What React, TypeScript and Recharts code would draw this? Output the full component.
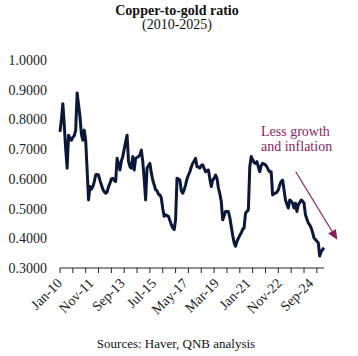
import React from "react";
import { LineChart, Line, XAxis, YAxis, ReferenceLine } from "recharts";

// monthly copper-to-gold ratio, Jan-10 onwards
const ratio = [
  0.758, 0.8, 0.853, 0.78, 0.7, 0.636, 0.747, 0.735, 0.73, 0.74,
  0.745, 0.764, 0.889, 0.85, 0.81, 0.75, 0.73, 0.764, 0.73, 0.63,
  0.529, 0.574, 0.565, 0.574, 0.59, 0.613, 0.615, 0.613, 0.595, 0.58,
  0.565, 0.557, 0.552, 0.555, 0.574, 0.585, 0.6, 0.602, 0.595, 0.591,
  0.669, 0.65, 0.63, 0.66, 0.675, 0.7, 0.725, 0.747, 0.66, 0.641,
  0.636, 0.675, 0.63, 0.669, 0.672, 0.675, 0.68, 0.697, 0.658, 0.6,
  0.529, 0.636, 0.645, 0.652, 0.62, 0.596, 0.58, 0.563, 0.56, 0.548,
  0.546, 0.535, 0.5, 0.474, 0.479, 0.476, 0.474, 0.46, 0.446, 0.435,
  0.429, 0.462, 0.602, 0.6, 0.596, 0.56, 0.552, 0.563, 0.58, 0.6,
  0.613, 0.624, 0.64, 0.652, 0.66, 0.669, 0.641, 0.64, 0.636, 0.645,
  0.647, 0.635, 0.624, 0.628, 0.63, 0.6, 0.574, 0.596, 0.602, 0.613,
  0.602, 0.569, 0.55, 0.524, 0.462, 0.475, 0.49, 0.49, 0.49, 0.47,
  0.44, 0.41, 0.385, 0.373, 0.39, 0.4, 0.41, 0.418, 0.43, 0.435,
  0.485, 0.49, 0.496, 0.641, 0.675, 0.665, 0.655, 0.652, 0.658, 0.64,
  0.624, 0.645, 0.652, 0.65, 0.647, 0.64, 0.63, 0.624, 0.624, 0.546,
  0.55, 0.552, 0.555, 0.563, 0.58, 0.591, 0.596, 0.563, 0.529, 0.515,
  0.502, 0.529, 0.525, 0.518, 0.502, 0.518, 0.49, 0.513, 0.52, 0.529,
  0.525, 0.518, 0.479, 0.465, 0.451, 0.445, 0.435, 0.42, 0.401, 0.396,
  0.39, 0.385, 0.34, 0.355, 0.362, 0.368,
];

const labelMonths = [0, 22, 44, 66, 88, 110, 132, 154, 176];
const labelNames = ["Jan-10", "Nov-11", "Sep-13", "Jul-15", "May-17", "Mar-19", "Jan-21", "Nov-22", "Sep-24"];
const minorTicks = [0, 9, 18, 27, 36, 45, 54, 63, 72, 81, 90, 99, 108, 117, 126, 135, 144, 153, 162, 171, 180];
const yTicks = [0.3, 0.4, 0.5, 0.6, 0.7, 0.8, 0.9, 1.0];

const arrowFrom = { x: 165.2, y: 0.624 };
const arrowTo = { x: 194.3, y: 0.395 };

const FONT = '"Liberation Serif", "Times New Roman", serif';
const NAVY = "#0c1839";
const MAROON = "#8c1d5c";

const data = ratio.map((v, i) => ({ m: i, ratio: v }));
const allTicks = Array.from(new Set([...minorTicks, ...labelMonths])).sort((a, b) => a - b);

const XTick = (props: any) => {
  const { x, y, payload } = props;
  const v = payload.value;
  const idx = labelMonths.indexOf(v);
  return (
    <g>
      {minorTicks.includes(v) && (
        <line x1={x} y1={y} x2={x} y2={y + 5} stroke="#222" strokeWidth={1} />
      )}
      {idx >= 0 && (
        <text
          x={x + 3}
          y={y + 16}
          textAnchor="end"
          transform={`rotate(-45 ${x + 3} ${y + 16})`}
          fontSize={14}
          fontFamily={FONT}
          fill="#222"
        >
          {labelNames[idx]}
        </text>
      )}
    </g>
  );
};

const Arrow = (props: any) => {
  const { x1, y1, x2, y2 } = props;
  const ang = Math.atan2(y2 - y1, x2 - x1);
  const len = 10;
  const hw = 4.5;
  const bx = x2 - len * Math.cos(ang);
  const by = y2 - len * Math.sin(ang);
  const px = -Math.sin(ang) * hw;
  const py = Math.cos(ang) * hw;
  return (
    <g>
      <line x1={x1} y1={y1} x2={bx} y2={by} stroke={MAROON} strokeWidth={1.2} />
      <polygon points={`${x2},${y2} ${bx + px},${by + py} ${bx - px},${by - py}`} fill={MAROON} />
    </g>
  );
};

export default function App() {
  return (
    <div style={{ position: "absolute", left: 0, top: 0, width: 358, height: 356, background: "#fff" }}>
      <LineChart width={358} height={356} data={data} margin={{ top: 60, right: 34, bottom: 0, left: 0 }}>
        <XAxis
          dataKey="m"
          type="number"
          domain={[0, 185]}
          ticks={allTicks}
          interval={0}
          tick={<XTick />}
          tickLine={false}
          tickSize={0}
          tickMargin={0}
          axisLine={{ stroke: "#222" }}
          height={88}
        />
        <YAxis
          type="number"
          domain={[0.3, 1.0]}
          ticks={yTicks}
          width={60}
          tickLine={false}
          axisLine={false}
          tickSize={0}
          tickMargin={13}
          tickFormatter={(v: number) => v.toFixed(4)}
          tick={{ fill: "#222", fontSize: 14, fontFamily: FONT }}
        />
        <ReferenceLine
          segment={[arrowFrom, arrowTo]}
          ifOverflow="visible"
          shape={<Arrow />}
        />
        <Line
          type="linear"
          dataKey="ratio"
          stroke={NAVY}
          strokeWidth={3}
          dot={false}
          strokeLinejoin="round"
          isAnimationActive={false}
        />
      </LineChart>
      <svg width={358} height={356} style={{ position: "absolute", left: 0, top: 0, pointerEvents: "none" }}>
        <text x={177} y={15} textAnchor="middle" fontFamily={FONT} fontSize={14} fontWeight="bold" fill="#111">
          Copper-to-gold ratio
        </text>
        <text x={177} y={29} textAnchor="middle" fontFamily={FONT} fontSize={14} fill="#111">
          (2010-2025)
        </text>
        <text x={261} y={136} fontFamily={FONT} fontSize={14} fill={MAROON}>
          Less growth
        </text>
        <text x={261} y={151} fontFamily={FONT} fontSize={14} fill={MAROON}>
          and inflation
        </text>
        <text x={176} y={348} textAnchor="middle" fontFamily={FONT} fontSize={13} fill="#111">
          Sources: Haver, QNB analysis
        </text>
      </svg>
    </div>
  );
}
